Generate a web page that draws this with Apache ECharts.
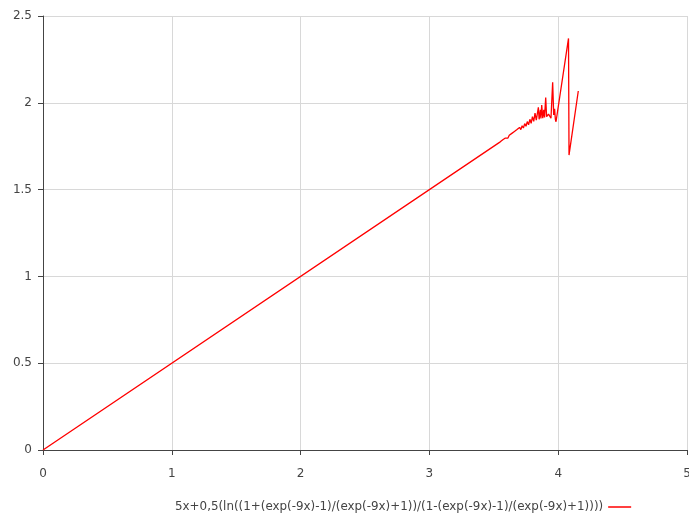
<!DOCTYPE html>
<html><head><meta charset="utf-8">
<script src="https://cdn.jsdelivr.net/npm/echarts@6/dist/echarts.min.js"></script>
<style>html,body{margin:0;padding:0;background:#fff}#c{width:689px;height:515px}</style>
</head><body><div id="c"></div>
<script>
var seriesName = "5x+0,5(ln((1+(exp(-9x)-1)/(exp(-9x)+1))/(1-(exp(-9x)-1)/(exp(-9x)+1))))";
var xValues = [0, 3.55, 3.57, 3.58, 3.59, 3.60, 3.61, 3.62, 3.63, 3.64, 3.65, 3.66, 3.67, 3.68, 3.69, 3.70, 3.71, 3.72, 3.73, 3.74, 3.75, 3.76, 3.77, 3.78, 3.79, 3.80, 3.81, 3.82, 3.83, 3.846, 3.852, 3.862, 3.866, 3.872, 3.880, 3.888, 3.894, 3.903, 3.910, 3.925, 3.944, 3.957, 3.965, 3.972, 3.978, 3.983, 4.080, 4.084, 4.156];
var yValues = [0, 1.775, 1.787, 1.788, 1.797, 1.800, 1.797, 1.813, 1.808, 1.824, 1.818, 1.835, 1.826, 1.846, 1.836, 1.858, 1.846, 1.868, 1.855, 1.880, 1.865, 1.892, 1.873, 1.905, 1.882, 1.920, 1.893, 1.940, 1.900, 1.974, 1.905, 1.960, 1.910, 1.987, 1.912, 1.960, 1.915, 2.031, 1.920, 1.935, 1.911, 2.118, 1.930, 1.965, 1.905, 1.891, 2.371, 1.699, 2.068];
var xTicks = [0, 1, 2, 3, 4, 5];
var yTicks = [0, 0.5, 1, 1.5, 2, 2.5];

var data = xValues.map(function (x, i) { return [x, yValues[i]]; });
var chart = echarts.init(document.getElementById('c'), null, {renderer: 'canvas'});
var font = 'DejaVu Sans';
chart.setOption({
  animation: false,
  backgroundColor: '#fff',
  grid: {left: 43, right: 2, top: 16, bottom: 65, containLabel: false, outerBoundsMode: 'none'},
  legend: {
    data: [seriesName],
    top: 496, left: 170,
    align: 'right',
    itemWidth: 23, itemHeight: 1.5, itemGap: 4,
    icon: 'rect',
    textStyle: {fontFamily: font, fontSize: 11.9, color: '#444'}
  },
  xAxis: {
    type: 'value', min: xTicks[0], max: xTicks[xTicks.length - 1], interval: 1,
    axisLine: {show: true, lineStyle: {color: '#444', width: 1}},
    axisTick: {show: true, length: 5, lineStyle: {color: '#444'}},
    axisLabel: {margin: 18, fontFamily: font, fontSize: 12, color: '#444'},
    splitLine: {show: true, lineStyle: {color: '#d8d8d8', width: 1}}
  },
  yAxis: {
    type: 'value', min: yTicks[0], max: yTicks[yTicks.length - 1], interval: 0.5,
    axisLine: {show: true, lineStyle: {color: '#444', width: 1}},
    axisTick: {show: true, length: 5, lineStyle: {color: '#444'}},
    axisLabel: {margin: 11, fontFamily: font, fontSize: 12, color: '#444'},
    splitLine: {show: true, lineStyle: {color: '#d8d8d8', width: 1}}
  },
  series: [{
    name: seriesName, type: 'line', data: data,
    showSymbol: false, symbol: 'none',
    lineStyle: {color: '#ff0000', width: 1.3},
    itemStyle: {color: '#ff0000'}
  }]
});
</script></body></html>
